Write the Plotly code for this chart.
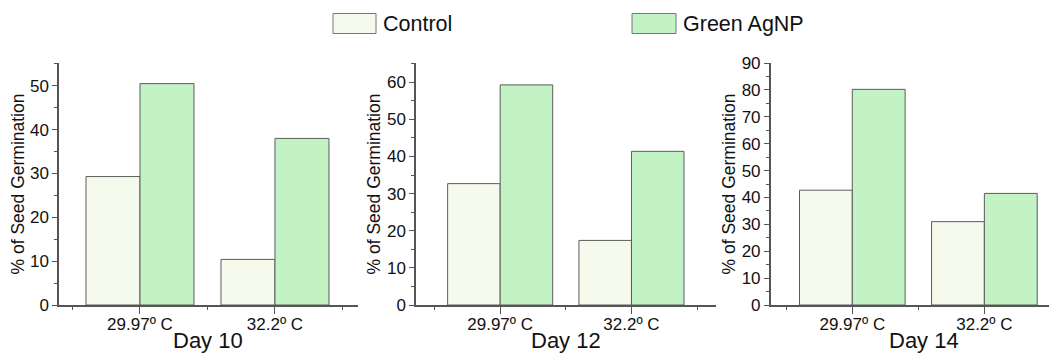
import plotly.graph_objects as go

# ---- data ----
temperatures = ["29.97º C", "32.2º C"]
days = ["Day 10", "Day 12", "Day 14"]
control = {
    "Day 10": [29.3, 10.4],
    "Day 12": [32.7, 17.4],
    "Day 14": [42.7, 31.0],
}
green_agnp = {
    "Day 10": [50.5, 38.0],
    "Day 12": [59.3, 41.4],
    "Day 14": [80.2, 41.5],
}
y_max = {"Day 10": 55.2, "Day 12": 65.2, "Day 14": 90}
y_dtick = {"Day 10": 10, "Day 12": 10, "Day 14": 10}

# ---- style ----
CTRL_FILL = "#F6FAEC"
GREEN_FILL = "#C3F2C4"
EDGE = "#5C5C5C"
AXIS = "#555555"
FONT = "Liberation Sans, Arial, sans-serif"

# page has an 8px body margin; figure sized to fill the rest of the window
OFF = 8
W, H = 1057 - OFF, 354 - OFF


def px(x):
    return (x - OFF) / W


def py(y):
    return 1 - (y - OFF) / H


x_pos = [i + 1 for i in range(len(temperatures))]

x_domains = [
    [px(59), px(358)],
    [px(416), px(715.5)],
    [px(770.7), 1.0],
]
x_ranges = [
    [0.40, 2.615],
    [0.359, 2.64],
    [0.382, 2.55],
]
y_domain = [py(305), py(63)]

fig = go.Figure()
annotations = []

for i, d in enumerate(days):
    sfx = "" if i == 0 else str(i + 1)
    fig.add_trace(go.Bar(
        x=x_pos, y=control[d], name="Control",
        marker=dict(color=CTRL_FILL, line=dict(color=EDGE, width=1)),
        xaxis="x" + sfx, yaxis="y" + sfx, offsetgroup="c", showlegend=False,
    ))
    fig.add_trace(go.Bar(
        x=x_pos, y=green_agnp[d], name="Green AgNP",
        marker=dict(color=GREEN_FILL, line=dict(color=EDGE, width=1)),
        xaxis="x" + sfx, yaxis="y" + sfx, offsetgroup="g", showlegend=False,
    ))

    xa = dict(
        domain=x_domains[i], range=x_ranges[i], anchor="y" + sfx,
        automargin=False,
        tickmode="array", tickvals=x_pos, ticktext=temperatures,
        ticks="outside", ticklen=7, tickwidth=1, tickcolor=AXIS,
        ticklabelstandoff=-4,
        showline=True, linecolor=AXIS, linewidth=1.5,
        showgrid=False, zeroline=False,
        tickfont=dict(family=FONT, size=17, color="#111"),
        minor=dict(tickvals=[0.5, 1.5, 2.5], ticks="outside", ticklen=3,
                   tickcolor=AXIS, showgrid=False),
    )
    ya = dict(
        domain=y_domain, range=[0, y_max[d]], anchor="x" + sfx,
        automargin=False,
        dtick=y_dtick[d], tick0=0,
        ticks="outside", ticklen=5, tickwidth=1, tickcolor=AXIS,
        showline=True, linecolor=AXIS, linewidth=1.5,
        showgrid=False, zeroline=False,
        tickfont=dict(family=FONT, size=17, color="#111"),
        title=dict(text="% of Seed Germination",
                   font=dict(family=FONT, size=17.5, color="#111"), standoff=2),
        minor=dict(dtick=5, ticks="outside", ticklen=3, tickcolor=AXIS, showgrid=False),
    )
    fig.update_layout(**{"xaxis" + sfx: xa, "yaxis" + sfx: ya})

    # x-axis title (day), centred under the two category groups
    annotations.append(dict(
        text=d, xref="x" + sfx + " domain" if sfx else "x domain", yref="paper",
        x=0.5 if i < 2 else 0.535, y=py(340.5), xanchor="center", yanchor="middle",
        borderpad=0,
        showarrow=False, font=dict(family=FONT, size=22, color="#111"),
    ))

# ---- legend (drawn manually to match large swatches) ----
legend_items = [("Control", CTRL_FILL, 333, 376), ("Green AgNP", GREEN_FILL, 632, 676)]
shapes = []
for label, col, x0, x1 in legend_items:
    shapes.append(dict(type="rect", xref="paper", yref="paper",
                       x0=px(x0), x1=px(x1),
                       y0=py(33.5), y1=py(13.5),
                       fillcolor=col, line=dict(color="#777777", width=1)))
    annotations.append(dict(text=label, xref="paper", yref="paper",
                            x=px(x1 + 5), y=py(23.5),
                            xanchor="left", yanchor="middle", showarrow=False,
                            font=dict(family=FONT, size=21.5, color="#111")))

fig.update_layout(
    width=W, height=H,
    margin=dict(l=0, r=0, t=0, b=0, autoexpand=False),
    paper_bgcolor="white", plot_bgcolor="white",
    barmode="group", bargap=0.2, bargroupgap=0,
    showlegend=False,
    shapes=shapes, annotations=annotations,
)

fig.write_html("out.html")
